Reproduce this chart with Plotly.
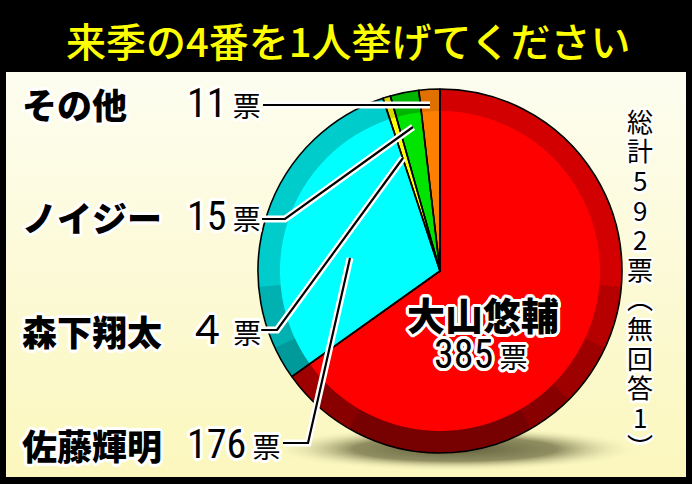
import numpy as np
import plotly.graph_objects as go

# data (clockwise from 12 o'clock)
players = ["大山悠輔", "佐藤輝明", "森下翔太", "ノイジー", "その他"]
votes = [385, 176, 4, 15, 11]
no_answer = 1
unit = "票"
title_text = "来季の4番を1人挙げてください"

bright = ["#ff0000", "#00ffff", "#ffff00", "#00e400", "#ff8000"]
rim = ["#d20000", "#00cccc", "#d8d800", "#00b400", "#e07000"]

W, H = 692, 484
CX, CY, R_OUT, R_IN = 440, 271, 182, 160
JP = "Noto Sans CJK JP"
NUM = "Liberation Sans Narrow, Roboto Condensed, Noto Sans CJK JP"


def dom(r):
    return dict(x=[(CX - r) / W, (CX + r) / W], y=[1 - (CY + r) / H, 1 - (CY - r) / H])


def outline(px, color="#ffffff"):
    return ", ".join(
        f"{px * np.cos(a):.1f}px {px * np.sin(a):.1f}px 0 {color}"
        for a in np.linspace(0, 2 * np.pi, 16, endpoint=False)
    )


def ring_path(a0, a1, r0, r1):
    # annulus sector, angles in degrees clockwise from 12 o'clock
    a = np.radians(np.linspace(a0, a1, 60))
    xo, yo = CX + r1 * np.sin(a), CY - r1 * np.cos(a)
    xi, yi = CX + r0 * np.sin(a[::-1]), CY - r0 * np.cos(a[::-1])
    pts = list(zip(np.r_[xo, xi], np.r_[yo, yi]))
    return "M " + " L ".join(f"{x:.1f},{y:.1f}" for x, y in pts) + " Z"


fig = go.Figure()

# cream panel with vertical gradient
fig.add_trace(go.Scatter(
    x=[6, 686, 686, 6, 6], y=[72, 72, 477, 477, 72], fill="toself", mode="none",
    fillgradient=dict(type="vertical", start=72, stop=477,
                      colorscale=[[0, "#fdfdf0"], [1, "#fbf7bd"]]),
    hoverinfo="skip", showlegend=False,
))

# soft shadow under the pie
t = np.linspace(0, 2 * np.pi, 120)
fig.add_trace(go.Scatter(
    x=455 + 185 * np.cos(t), y=449 + 22 * np.sin(t), fill="toself", mode="none",
    fillgradient=dict(type="radial", colorscale=[[0, "rgba(95,95,60,1)"],
                                                  [0.55, "rgba(125,123,80,0.85)"],
                                                  [1, "rgba(251,247,191,0)"]]),
    hoverinfo="skip", showlegend=False,
))

pie_kw = dict(labels=players, values=votes, sort=False, direction="clockwise",
              rotation=0, textinfo="none", hoverinfo="label+value", showlegend=False)
fig.add_trace(go.Pie(**pie_kw, domain=dom(R_OUT), marker=dict(colors=rim, line=dict(width=0))))
fig.add_trace(go.Pie(**pie_kw, domain=dom(R_IN), marker=dict(colors=bright, line=dict(width=0))))
fig.add_trace(go.Pie(**pie_kw, domain=dom(R_OUT),
                     marker=dict(colors=["rgba(0,0,0,0)"] * len(votes),
                                 line=dict(color="#000000", width=1.6))))

shapes = []
# darker rim towards the bottom
for a0, a1 in [(95, 265), (115, 245), (135, 225), (150, 210)]:
    shapes.append(dict(type="path", path=ring_path(a0, a1, R_IN, R_OUT - 0.8), xref="x", yref="y",
                       layer="above", fillcolor="rgba(0,0,0,0.13)", line=dict(width=0)))

# left-hand labels (top to bottom)
rows = list(zip(players[:0:-1], votes[:0:-1]))
row_y = [103, 216, 330, 444]
leaders = [
    [(263, 105), (430, 105)],
    [(262, 219), (285, 219), (413, 127)],
    [(258, 330), (277, 330), (403, 158)],
    [(283, 443), (308, 443), (350, 258)],
]

for pts in leaders:
    path = "M " + " L ".join(f"{x},{y}" for x, y in pts)
    shapes.append(dict(type="path", path=path, xref="x", yref="y", layer="above",
                       line=dict(color="#ffffff", width=7)))
    shapes.append(dict(type="path", path=path, xref="x", yref="y", layer="above",
                       line=dict(color="#000000", width=2.2)))

annotations = [dict(x=348, y=40, text=title_text, showarrow=False,
                    font=dict(family=JP, size=40, color="#ffff00", weight=500))]

for (name, n), y in zip(rows, row_y):
    num = str(n) if n >= 10 else chr(0xFF10 + n)
    annotations.append(dict(x=20, y=y, xanchor="left", text=name, showarrow=False,
                            font=dict(family=JP, size=35, color="#000000", weight=900,
                                      shadow=outline(3))))
    annotations.append(dict(
        x=185, y=y, xanchor="left", showarrow=False,
        text=f"{num}<span style=\"font-family:'{JP}';font-size:28px\"> {unit}</span>",
        font=dict(family=NUM, size=40, color="#000000", shadow=outline(3))))

annotations.append(dict(x=483, y=313, text=players[0], showarrow=False,
                        font=dict(family=JP, size=38, color="#000000", weight=900,
                                  shadow=outline(3))))
annotations.append(dict(
    x=481, y=354, showarrow=False,
    text=f"{votes[0]}<span style=\"font-family:'{JP}';font-size:28px\"> {unit}</span>",
    font=dict(family=NUM, size=40, color="#000000", shadow=outline(3))))

# vertical total, one character per line
total = sum(votes) + no_answer
vertical = f"総計{total}{unit}︵無回答{no_answer}︶"
step = 29.6
y0 = 283 - step * (len(vertical) - 1) / 2
for i, ch in enumerate(vertical):
    annotations.append(dict(x=640, y=y0 + i * step, text=ch, showarrow=False,
                            font=dict(family=JP, size=26, color="#000000",
                                      shadow=outline(2.5))))

fig.update_layout(
    width=W, height=H, margin=dict(l=0, r=0, t=0, b=0),
    paper_bgcolor="#000000", plot_bgcolor="rgba(0,0,0,0)",
    xaxis=dict(range=[0, W], visible=False, fixedrange=True, domain=[0, 1]),
    yaxis=dict(range=[H, 0], visible=False, fixedrange=True, domain=[0, 1]),
    shapes=shapes, annotations=annotations, showlegend=False,
)

fig.write_html("out.html", post_script="document.body.style.margin='0';",
               config={"displayModeBar": False})
